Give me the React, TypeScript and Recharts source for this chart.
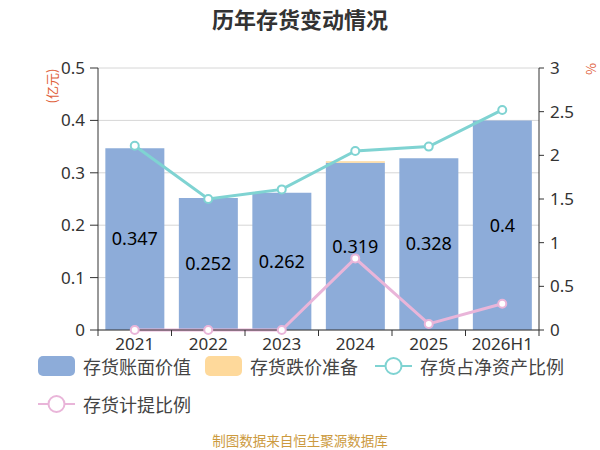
import React from 'react';
import { ComposedChart, Bar, Line, XAxis, YAxis, CartesianGrid, LabelList } from 'recharts';

const categories = ['2021', '2022', '2023', '2024', '2025', '2026H1'];
const bookValue = [0.347, 0.252, 0.262, 0.319, 0.328, 0.4];
const provision = [0, 0, 0, 0.003, 0, 0];
const inventoryToNetAssets = [2.11, 1.5, 1.61, 2.05, 2.1, 2.52];
const provisionRatio = [0, 0, 0, 0.82, 0.07, 0.3];
const leftTicks = [0, 0.1, 0.2, 0.3, 0.4, 0.5];
const rightTicks = [0, 0.5, 1, 1.5, 2, 2.5, 3];

const data = categories.map((c, i) => ({
  name: c,
  book: bookValue[i],
  prov: provision[i],
  ratio: inventoryToNetAssets[i],
  provRatio: provisionRatio[i],
}));

const BLUE = '#8dacd9';
const YELLOW = '#fed99b';
const TEAL = '#7fd3d2';
const PINK = '#e9b5d9';
const FONT = '"Noto Sans", "Noto Sans CJK SC", sans-serif';
const CJK = '"Noto Sans CJK SC", "Noto Sans", sans-serif';

const XTick = (props: any) => {
  const { x, y, payload, index, visibleTicksCount } = props;
  const half = payload.offset || 0;
  const axisY = y - 8;
  return (
    <g>
      <line x1={x - half} x2={x - half} y1={axisY} y2={axisY + 6} stroke="#333" />
      {index === visibleTicksCount - 1 && (
        <line x1={x + half} x2={x + half} y1={axisY} y2={axisY + 6} stroke="#333" />
      )}
      <text x={x} y={y} dy="0.71em" textAnchor="middle" fill="#333" fontSize={17} fontFamily={FONT}>
        {payload.value}
      </text>
    </g>
  );
};

const legendItems = [
  { label: '存货账面价值', color: BLUE, type: 'rect', left: 38, top: 356 },
  { label: '存货跌价准备', color: YELLOW, type: 'rect', left: 205, top: 356 },
  { label: '存货占净资产比例', color: TEAL, type: 'line', left: 375, top: 356 },
  { label: '存货计提比例', color: PINK, type: 'line', left: 38, top: 394 },
];

export default function App() {
  return (
    <div style={{ position: 'absolute', left: 0, top: 0, width: 600, height: 450, background: '#fff', fontFamily: CJK }}>
      <div style={{ position: 'absolute', left: 0, top: 4, width: 600, textAlign: 'center', fontSize: 22, fontWeight: 'bold', color: '#333', lineHeight: '28px' }}>
        历年存货变动情况
      </div>
      <div style={{ position: 'absolute', left: 52 - 30, top: 86 - 9, width: 60, height: 18, textAlign: 'center', fontSize: 13, color: '#e0603a', lineHeight: '18px', transform: 'rotate(-90deg)' }}>
        (亿元)
      </div>
      <div style={{ position: 'absolute', left: 591 - 8, top: 69 - 9, width: 16, height: 18, textAlign: 'center', fontSize: 13, color: '#e0603a', lineHeight: '18px', transform: 'rotate(90deg)' }}>
        %
      </div>
      <ComposedChart width={600} height={450} data={data} margin={{ top: 68, right: 0, bottom: 90, left: 0 }}>
        <CartesianGrid yAxisId="left" vertical={false} stroke="#d6d6d6" />
        <XAxis
          dataKey="name"
          height={30}
          tickLine={false}
          tickSize={6}
          tickMargin={2}
          axisLine={{ stroke: '#333' }}
          tick={<XTick />}
          interval={0}
        />
        <YAxis
          yAxisId="left"
          width={98}
          domain={[0, 0.5]}
          ticks={leftTicks}
          tickSize={8}
          tickMargin={5}
          axisLine={{ stroke: '#333' }}
          tickLine={{ stroke: '#333' }}
          tick={{ fill: '#333', fontSize: 17, fontFamily: FONT }}
        />
        <YAxis
          yAxisId="right"
          orientation="right"
          width={61}
          domain={[0, 3]}
          ticks={rightTicks}
          tickSize={5}
          tickMargin={6}
          axisLine={{ stroke: '#333' }}
          tickLine={{ stroke: '#333' }}
          tick={{ fill: '#333', fontSize: 17, fontFamily: FONT }}
        />
        <Bar yAxisId="left" dataKey="book" stackId="a" fill={BLUE} isAnimationActive={false}>
          <LabelList dataKey="book" position="center" fill="#000" fontSize={18} fontFamily={FONT} />
        </Bar>
        <Bar yAxisId="left" dataKey="prov" stackId="a" fill={YELLOW} isAnimationActive={false} />
        <Line
          yAxisId="right"
          dataKey="ratio"
          stroke={TEAL}
          strokeWidth={3}
          dot={{ r: 4, fill: '#fff', stroke: TEAL, strokeWidth: 2 }}
          isAnimationActive={false}
        />
        <Line
          yAxisId="right"
          dataKey="provRatio"
          stroke={PINK}
          strokeWidth={3}
          dot={{ r: 4, fill: '#fff', stroke: PINK, strokeWidth: 2 }}
          isAnimationActive={false}
        />
      </ComposedChart>
      {legendItems.map((it) => (
        <div key={it.label} style={{ position: 'absolute', left: it.left, top: it.top, height: 20, display: 'flex', alignItems: 'center' }}>
          <svg width={38} height={20} style={{ display: 'block' }}>
            {it.type === 'rect' ? (
              <rect x={0} y={0} width={37} height={20} rx={5} fill={it.color} />
            ) : (
              <g>
                <line x1={0} x2={37} y1={10} y2={10} stroke={it.color} strokeWidth={2} />
                <circle cx={18.5} cy={10} r={8} fill="#fff" stroke={it.color} strokeWidth={2} />
              </g>
            )}
          </svg>
          <span style={{ marginLeft: 7, fontSize: 18, color: '#444', lineHeight: '20px', whiteSpace: 'nowrap' }}>{it.label}</span>
        </div>
      ))}
      <div style={{ position: 'absolute', left: 0, top: 431, width: 600, textAlign: 'center', fontSize: 13.5, color: '#cc9a3e', lineHeight: '18px' }}>
        制图数据来自恒生聚源数据库
      </div>
    </div>
  );
}
